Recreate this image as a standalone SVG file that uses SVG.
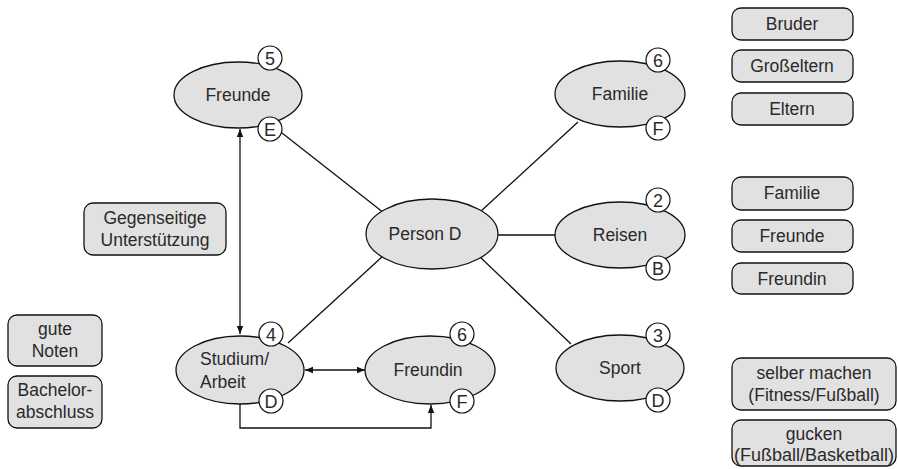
<svg xmlns="http://www.w3.org/2000/svg" width="898" height="469" viewBox="0 0 898 469">
<style>
.ell{fill:#e1e1e1;stroke:#111;stroke-width:1.3}
.box{fill:#e1e1e1;stroke:#111;stroke-width:1.3}
.cir{fill:#fff;stroke:#111;stroke-width:1.2}
text{font-family:"Liberation Sans",Arial,sans-serif;font-size:17.5px;fill:#2a2a2a;text-anchor:middle}
.n{font-size:18px}
.l{text-anchor:start}
.con{fill:none;stroke:#111;stroke-width:1.3}
</style>
<defs>
<marker id="ah" viewBox="0 0 10 10" refX="10" refY="5" markerWidth="8" markerHeight="8" markerUnits="userSpaceOnUse" orient="auto-start-reverse">
<path d="M0,1 L10,5 L0,9 Z" fill="#111"/>
</marker>
</defs>
<g id="connectors">
<line class="con" x1="282" y1="133" x2="384" y2="213"/>
<line class="con" x1="578" y1="122" x2="480" y2="212"/>
<line class="con" x1="498" y1="235" x2="556" y2="235"/>
<line class="con" x1="480" y1="257" x2="571" y2="344"/>
<line class="con" x1="383" y1="256" x2="288" y2="343"/>
<line class="con" x1="240" y1="129" x2="240" y2="334" marker-start="url(#ah)" marker-end="url(#ah)"/>
<line class="con" x1="305" y1="370" x2="365" y2="370" marker-start="url(#ah)" marker-end="url(#ah)"/>
<polyline class="con" points="240,404 240,428 431,428 431,405" marker-end="url(#ah)"/>
</g>
<g id="freunde">
<ellipse class="ell" cx="238" cy="95" rx="64" ry="33"/>
<text x="238" y="101">Freunde</text>
<circle class="cir" cx="270" cy="58" r="12"/><text class="n" x="270" y="64.5">5</text>
<circle class="cir" cx="270" cy="129" r="12"/><text class="n" x="270" y="135.5">E</text>
</g>
<g id="person-d">
<ellipse class="ell" cx="432" cy="234" rx="66" ry="35"/>
<text x="425" y="240">Person D</text>
</g>
<g id="familie">
<ellipse class="ell" cx="620" cy="94" rx="65" ry="33"/>
<text x="620" y="100">Familie</text>
<circle class="cir" cx="658" cy="60" r="12"/><text class="n" x="658" y="66.5">6</text>
<circle class="cir" cx="658" cy="128" r="12"/><text class="n" x="658" y="134.5">F</text>
</g>
<g id="reisen">
<ellipse class="ell" cx="620" cy="235" rx="65" ry="33"/>
<text x="620" y="241">Reisen</text>
<circle class="cir" cx="658" cy="200" r="12"/><text class="n" x="658" y="206.5">2</text>
<circle class="cir" cx="658" cy="268" r="12"/><text class="n" x="658" y="274.5">B</text>
</g>
<g id="sport">
<ellipse class="ell" cx="620" cy="368" rx="64" ry="33"/>
<text x="620" y="374">Sport</text>
<circle class="cir" cx="658" cy="335" r="12"/><text class="n" x="658" y="341.5">3</text>
<circle class="cir" cx="658" cy="400" r="12"/><text class="n" x="658" y="406.5">D</text>
</g>
<g id="studium">
<ellipse class="ell" cx="240" cy="370" rx="64" ry="34"/>
<text class="l" x="200" y="365">Studium/</text>
<text class="l" x="200" y="388">Arbeit</text>
<circle class="cir" cx="271" cy="334" r="12"/><text class="n" x="271" y="340.5">4</text>
<circle class="cir" cx="271" cy="401" r="12"/><text class="n" x="271" y="407.5">D</text>
</g>
<g id="freundin">
<ellipse class="ell" cx="430" cy="370" rx="65" ry="34"/>
<text x="428" y="376">Freundin</text>
<circle class="cir" cx="462" cy="334" r="12"/><text class="n" x="462" y="340.5">6</text>
<circle class="cir" cx="462" cy="401" r="12"/><text class="n" x="462" y="407.5">F</text>
</g>
<g id="gegenseitige">
<rect class="box" x="84" y="203" width="142" height="52" rx="9"/>
<text x="155" y="224">Gegenseitige</text>
<text x="155" y="246">Unterstützung</text>
</g>
<g id="gute-noten">
<rect class="box" x="8" y="315" width="94" height="51" rx="9"/>
<text x="55" y="335">gute</text>
<text x="55" y="357">Noten</text>
</g>
<g id="bachelor">
<rect class="box" x="8" y="376" width="94" height="52" rx="9"/>
<text x="55" y="396">Bachelor-</text>
<text x="55" y="418">abschluss</text>
</g>
<g id="bruder">
<rect class="box" x="732" y="8" width="121" height="32" rx="9"/>
<text x="792" y="30">Bruder</text>
</g>
<g id="grosseltern">
<rect class="box" x="732" y="50" width="121" height="32" rx="9"/>
<text x="792" y="72">Großeltern</text>
</g>
<g id="eltern">
<rect class="box" x="732" y="93" width="121" height="32" rx="9"/>
<text x="792" y="115">Eltern</text>
</g>
<g id="familie-box">
<rect class="box" x="732" y="177" width="121" height="33" rx="9"/>
<text x="792" y="199">Familie</text>
</g>
<g id="freunde-box">
<rect class="box" x="732" y="220" width="121" height="32" rx="9"/>
<text x="792" y="242">Freunde</text>
</g>
<g id="freundin-box">
<rect class="box" x="732" y="263" width="121" height="31" rx="9"/>
<text x="792" y="285">Freundin</text>
</g>
<g id="selber-machen">
<rect class="box" x="732" y="358" width="164" height="52" rx="9"/>
<text x="814" y="379">selber machen</text>
<text x="814" y="401">(Fitness/Fußball)</text>
</g>
<g id="gucken">
<rect class="box" x="732" y="420" width="164" height="46" rx="9"/>
<text x="814" y="440">gucken</text>
<text x="814" y="461" textLength="160" lengthAdjust="spacingAndGlyphs">(Fußball/Basketball)</text>
</g>
</svg>
